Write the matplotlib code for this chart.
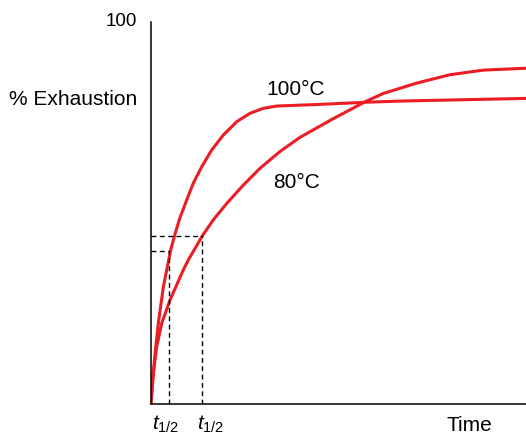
import matplotlib
matplotlib.use("Agg")
import matplotlib.pyplot as plt

plt.rcParams["font.family"] = ["Liberation Sans", "DejaVu Sans"]
plt.rcParams["mathtext.fontset"] = "custom"
plt.rcParams["mathtext.rm"] = "Liberation Sans"
plt.rcParams["mathtext.it"] = "Liberation Sans:italic"

# Dye exhaustion over time at two temperatures
time_100 = [0, 0.045, 0.107, 0.195, 0.328, 0.52, 0.64, 0.773, 0.952, 1.128,
            1.352, 1.619, 1.928, 2.285, 2.64, 2.995, 3.352, 4.419, 5.752,
            6.64, 10.0]
exh_100 = [0, 6.3, 13.1, 21.1, 30.6, 40.1, 44.5, 48.8, 53.4, 57.8,
           62.1, 66.5, 70.4, 73.9, 76.1, 77.4, 78.0, 78.4, 79.0,
           79.3, 80.0]

time_80 = [0, 0.061, 0.152, 0.285, 0.507, 0.861, 0.995, 1.368, 1.661, 2.019,
           2.461, 2.907, 3.44, 3.973, 4.861, 5.707, 6.195, 7.085, 7.973,
           8.861, 10.0]
exh_80 = [0, 8.0, 15.0, 21.1, 27.2, 35.1, 37.7, 44.0, 48.2, 52.5,
          57.3, 61.7, 66.1, 69.8, 74.7, 79.1, 81.3, 84.0, 86.2,
          87.4, 87.9]

# Half-exhaustion times and levels (100°C, 80°C)
t_half = [0.48, 1.368]
y_half = [40.1, 44.0]

curve_labels = ["100°C", "80°C"]
curve_label_pos = [(3.07, 82.2), (3.25, 58.1)]

red = "#EC1C24"

fig = plt.figure(figsize=(5.26, 4.36), dpi=100)
ax = fig.add_axes([151 / 526, 32 / 436, 375 / 526, 382 / 436])

for t, e in ((time_100, exh_100), (time_80, exh_80)):
    ax.plot(t, e, color=red, lw=2.2, solid_capstyle="round",
            solid_joinstyle="round")

for th, yh in zip(t_half, y_half):
    ax.plot([0, th], [yh, yh], color="black", lw=1.0, ls=(0, (3.5, 2.5)))
    ax.plot([th, th], [0, yh], color="black", lw=1.0, ls=(0, (3.5, 2.5)))

for lab, (lx, ly) in zip(curve_labels, curve_label_pos):
    ax.text(lx, ly, lab, fontsize=15, ha="left", va="center")

ax.set_xlim(0, 10)
ax.set_ylim(0, 100)
ax.set_xticks([])
ax.set_yticks([])
for side in ("top", "right"):
    ax.spines[side].set_visible(False)
for side in ("left", "bottom"):
    ax.spines[side].set_linewidth(1.1)

# Axis annotations
ax.text(-0.37, 100, "100", fontsize=13.5, ha="right", va="center")
ax.text(-0.37, 79.6, "% Exhaustion", fontsize=15, ha="right", va="center")
ax.text(8.49, -5.6, "Time", fontsize=15, ha="center", va="center")
half_label_x = [0.4, 1.6]
for hx in half_label_x:
    ax.text(hx, -5.4, r"$t_{1/2}$", fontsize=15, ha="center", va="center")

fig.savefig("out.png", dpi=100)
